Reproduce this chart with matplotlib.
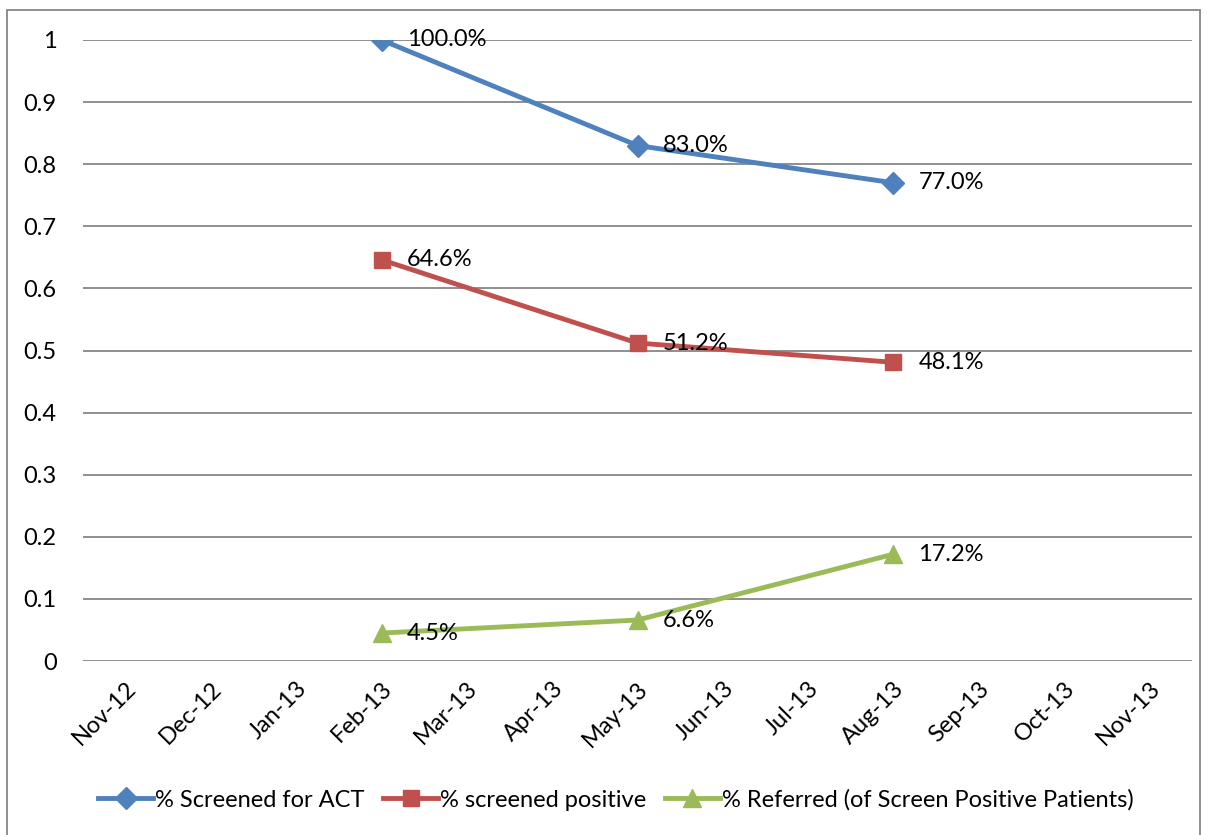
import matplotlib.pyplot as plt
from matplotlib.patches import Rectangle

# datos
meses = ["Nov-12", "Dec-12", "Jan-13", "Feb-13", "Mar-13", "Apr-13", "May-13",
         "Jun-13", "Jul-13", "Aug-13", "Sep-13", "Oct-13", "Nov-13"]
meses_datos = ["Feb-13", "May-13", "Aug-13"]
screened_act = [1.0, 0.83, 0.77]
screened_pos = [0.646, 0.512, 0.481]
referred = [0.045, 0.066, 0.172]

series = [
    ("% Screened for ACT", screened_act, "#4F81BD", "D", 11),
    ("% screened positive", screened_pos, "#C0504D", "s", 12),
    ("% Referred (of Screen Positive Patients)", referred, "#9BBB59", "^", 13),
]

plt.rcParams['font.family'] = ['Lato', 'DejaVu Sans']
fs = 17

fig = plt.figure(figsize=(12.07, 8.35), dpi=100)
ax = fig.add_axes([83/1207, 1 - 661/835, (1192-83)/1207, (661-40)/835])

xs = [meses.index(m) for m in meses_datos]
for nombre, vals, color, marca, tam in series:
    ax.plot(xs, vals, color=color, lw=3.5, marker=marca, ms=tam, label=nombre, zorder=3)
    for x, v in zip(xs, vals):
        ax.annotate("{:.1f}%".format(v * 100), (x, v), xytext=(18, 0),
                    textcoords="offset points", va="center", ha="left",
                    fontsize=fs, color="black", zorder=4)

ax.set_xlim(-0.5, len(meses) - 0.5)
ax.set_ylim(0, 1)
ax.set_yticks([i / 10 for i in range(11)])
ax.set_yticklabels(["0"] + ["{:.1f}".format(i / 10) for i in range(1, 10)] + ["1"])
ax.set_xticks(range(len(meses)))
ax.set_xticklabels(meses, rotation=45, ha="right", rotation_mode="anchor")
ax.tick_params(axis="both", length=0, labelsize=fs, pad=12)
ax.tick_params(axis="y", pad=19)
ax.grid(axis="y", color="#868686", lw=1.3)
ax.set_axisbelow(True)
for s in ax.spines.values():
    s.set_visible(False)

fig.legend(loc="center", bbox_to_anchor=(616/1207, 1 - 800/835), ncol=3, frameon=False,
           fontsize=fs, handlelength=2.3, handletextpad=0.1, columnspacing=0.8)

fig.patches.append(Rectangle((7/1207, -0.01), (1200-7)/1207, 1.01 - 10/835,
                             transform=fig.transFigure, fill=False,
                             edgecolor="#868686", lw=1.3))

fig.savefig("out.png", dpi=100)
